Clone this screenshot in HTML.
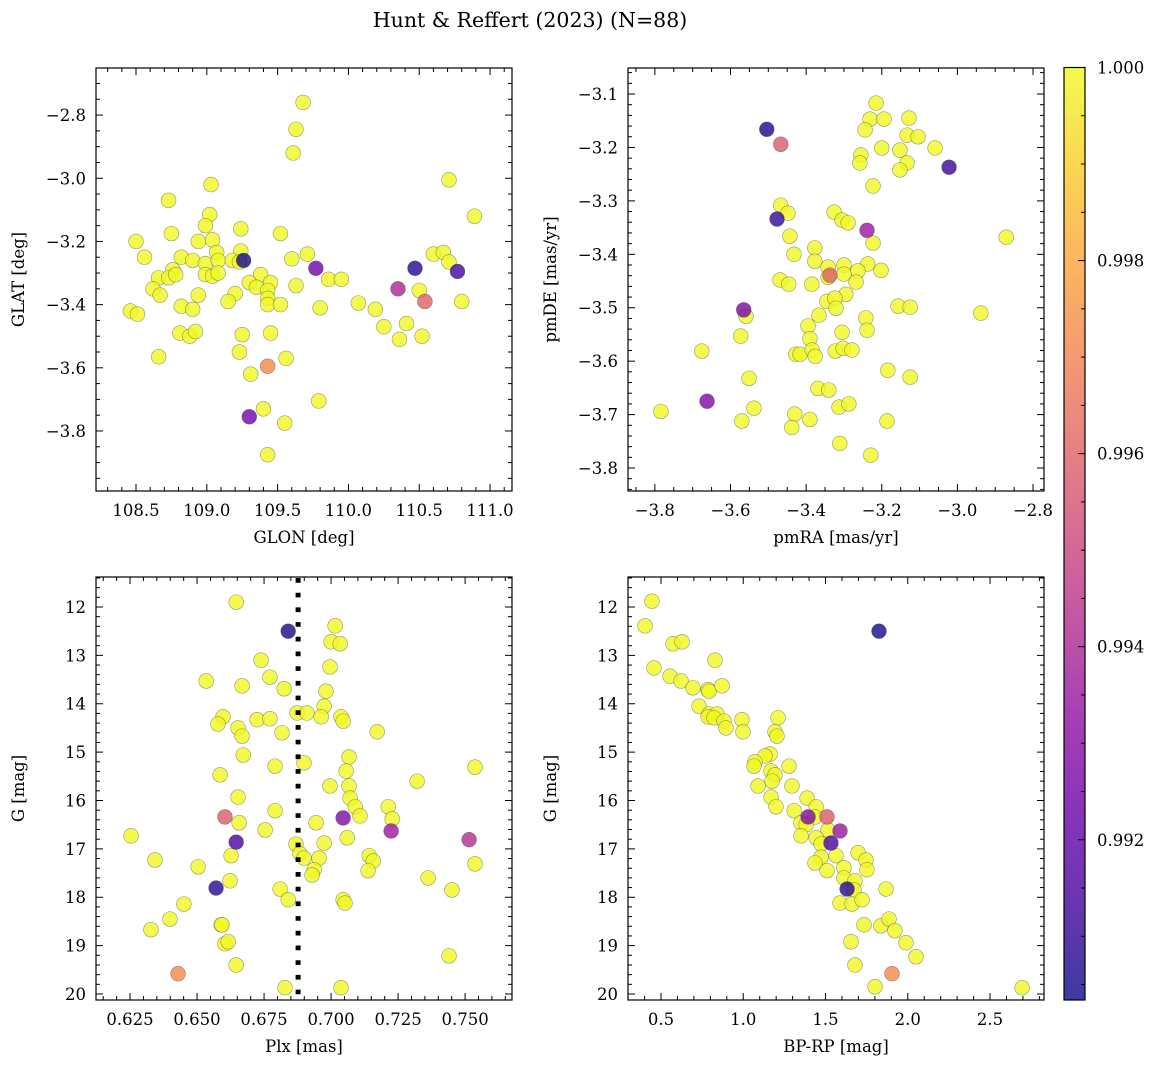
<!DOCTYPE html>
<html><head><meta charset="utf-8"><style>
body{margin:0;background:#fff;}
svg{display:block;font-family:"DejaVu Serif","Liberation Serif",serif;}
</style></head><body>
<svg id="fig" width="1161" height="1067" viewBox="0 0 1161 1067" xmlns="http://www.w3.org/2000/svg">
<text x="530" y="27" font-size="20.5" text-anchor="middle">Hunt &amp; Reffert (2023) (N=88)</text>
</svg>
<script>
// ---- data: panel 1 (GLON vs GLAT)
const glon1=[109.68,109.63,109.61,110.71,110.89,109.03,108.73,109.02,108.99,109.24,108.75,109.52,108.5,108.94,109.04,109.24,109.07,108.56,108.82,108.9,108.99,109.08,109.18,109.23,109.26,109.6,109.71,110.6,110.67,110.71,109.77,110.47,110.77,108.76,108.66,108.73,108.78,108.99,109.04,109.08,109.38,109.3,109.35,109.45,109.43,109.43,109.63,109.86,109.95,108.62,108.67,108.94,109.2,109.15,110.35,110.5,110.54,110.8,108.46,108.51,108.82,108.9,109.43,109.52,109.8,110.07,110.19,110.25,110.41,110.36,110.52,108.81,108.88,108.92,109.25,109.45,109.23,108.66,109.56,109.43,109.31,109.79,109.4,109.3,109.55,109.43];
const glat1=[-2.76,-2.845,-2.92,-3.005,-3.12,-3.02,-3.07,-3.115,-3.15,-3.16,-3.175,-3.175,-3.2,-3.2,-3.195,-3.23,-3.235,-3.25,-3.25,-3.26,-3.27,-3.26,-3.26,-3.265,-3.26,-3.255,-3.24,-3.24,-3.235,-3.265,-3.285,-3.285,-3.295,-3.29,-3.315,-3.315,-3.305,-3.305,-3.31,-3.3,-3.305,-3.33,-3.345,-3.33,-3.355,-3.38,-3.34,-3.32,-3.32,-3.35,-3.37,-3.37,-3.365,-3.39,-3.35,-3.355,-3.39,-3.39,-3.42,-3.43,-3.405,-3.415,-3.4,-3.4,-3.41,-3.395,-3.415,-3.47,-3.46,-3.51,-3.5,-3.49,-3.5,-3.485,-3.495,-3.49,-3.55,-3.565,-3.57,-3.595,-3.62,-3.705,-3.73,-3.755,-3.775,-3.875];
const prob1=[1,1,1,1,1,1,1,1,1,1,1,1,1,1,1,1,1,1,1,1,1,1,1,1,0.9905,1,1,1,1,1,0.9925,0.9908,0.9913,1,1,1,1,1,1,1,1,1,1,1,1,1,1,1,1,1,1,1,1,1,0.994,1,0.996,1,1,1,1,1,1,1,1,1,1,1,1,1,1,1,1,1,1,1,1,1,1,0.9972,1,1,1,0.9925,1,1];
// ---- data: panel 2 (pmRA vs pmDE)
const pmra2=[-3.215,-3.231,-3.194,-3.128,-3.244,-3.133,-3.104,-3.2,-3.152,-3.059,-3.255,-3.258,-3.133,-3.152,-3.022,-3.223,-3.504,-3.467,-3.467,-3.448,-3.477,-3.326,-3.305,-3.289,-3.239,-3.223,-3.443,-2.871,-3.432,-3.377,-3.377,-3.342,-3.3,-3.237,-3.202,-3.263,-3.337,-3.342,-3.3,-3.268,-3.469,-3.446,-3.385,-3.295,-3.345,-3.324,-3.321,-3.157,-3.125,-2.938,-3.565,-3.559,-3.366,-3.242,-3.395,-3.239,-3.573,-3.39,-3.305,-3.676,-3.427,-3.416,-3.384,-3.376,-3.323,-3.302,-3.279,-3.184,-3.125,-3.551,-3.369,-3.34,-3.662,-3.784,-3.538,-3.313,-3.287,-3.57,-3.43,-3.39,-3.186,-3.438,-3.311,-3.229];
const pmde2=[-3.117,-3.147,-3.147,-3.145,-3.167,-3.177,-3.18,-3.201,-3.205,-3.201,-3.214,-3.229,-3.229,-3.242,-3.237,-3.272,-3.166,-3.194,-3.308,-3.323,-3.334,-3.321,-3.336,-3.341,-3.355,-3.379,-3.366,-3.368,-3.4,-3.388,-3.413,-3.424,-3.42,-3.418,-3.43,-3.431,-3.439,-3.443,-3.437,-3.452,-3.448,-3.456,-3.456,-3.475,-3.488,-3.482,-3.501,-3.497,-3.499,-3.51,-3.504,-3.516,-3.514,-3.519,-3.534,-3.542,-3.553,-3.558,-3.546,-3.581,-3.587,-3.587,-3.579,-3.591,-3.581,-3.576,-3.579,-3.617,-3.63,-3.632,-3.651,-3.654,-3.675,-3.694,-3.688,-3.686,-3.68,-3.712,-3.699,-3.709,-3.712,-3.724,-3.754,-3.776];
const prob2=[1,1,1,1,1,1,1,1,1,1,1,1,1,1,0.9912,1,0.9905,0.9958,1,1,0.991,1,1,1,0.9935,1,1,1,1,1,1,1,1,1,1,1,0.996,1,1,1,1,1,1,1,1,1,1,1,1,1,0.9927,1,1,1,1,1,1,1,1,1,1,1,1,1,1,1,1,1,1,1,1,1,0.9928,1,1,1,1,1,1,1,1,1,1,1];
// ---- data: panel 3 (Plx vs G)
const plx3=[0.6646,0.684,0.7015,0.7,0.7034,0.6739,0.6996,0.6534,0.6772,0.6668,0.6825,0.6981,0.6974,0.6873,0.691,0.6963,0.7037,0.7045,0.6597,0.6578,0.6724,0.6772,0.6653,0.6668,0.6817,0.7172,0.6672,0.6899,0.7067,0.6791,0.7537,0.7056,0.6586,0.7321,0.6996,0.7067,0.6653,0.7071,0.709,0.6791,0.7213,0.7108,0.6604,0.7045,0.7228,0.6657,0.6944,0.7224,0.6754,0.6254,0.706,0.7515,0.6646,0.6869,0.6974,0.6627,0.6884,0.6899,0.6955,0.7142,0.7157,0.7537,0.6343,0.6504,0.6937,0.6929,0.7138,0.7362,0.6571,0.6623,0.681,0.684,0.7045,0.7052,0.7451,0.6451,0.6399,0.6328,0.659,0.6593,0.6604,0.6616,0.6646,0.744,0.6429,0.6828,0.7037];
const g3=[11.9,12.5,12.39,12.72,12.76,13.1,13.24,13.53,13.45,13.63,13.69,13.74,14.05,14.19,14.19,14.27,14.27,14.36,14.27,14.42,14.33,14.31,14.5,14.67,14.6,14.58,15.06,15.22,15.1,15.29,15.31,15.39,15.47,15.6,15.7,15.7,15.93,15.95,16.13,16.21,16.13,16.32,16.34,16.36,16.38,16.46,16.46,16.63,16.61,16.73,16.77,16.81,16.86,16.9,16.88,17.14,17.1,17.19,17.19,17.14,17.25,17.31,17.23,17.37,17.43,17.54,17.45,17.6,17.81,17.66,17.83,18.05,18.05,18.12,17.85,18.14,18.45,18.67,18.57,18.57,18.96,18.92,19.4,19.21,19.58,19.87,19.87];
const prob3=[1,0.9905,1,1,1,1,1,1,1,1,1,1,1,1,1,1,1,1,1,1,1,1,1,1,1,1,1,1,1,1,1,1,1,1,1,1,1,1,1,1,1,1,0.9958,0.9928,1,1,1,0.9935,1,1,1,0.9942,0.9915,1,1,1,1,1,1,1,1,1,1,1,1,1,1,1,0.9908,1,1,1,1,1,1,1,1,1,1,1,1,1,1,1,0.9972,1,1];
const plxRef=[0.6877];
// ---- data: panel 4 (BP-RP vs G)
const bprp4=[0.445,0.403,1.825,0.573,0.628,0.828,0.457,0.555,0.622,0.694,0.786,0.792,0.871,0.731,0.792,0.84,0.786,0.822,0.883,0.895,0.992,0.998,1.211,1.193,1.205,1.163,1.132,1.071,1.065,1.278,1.169,1.193,1.175,1.09,1.296,1.169,1.199,1.388,1.443,1.309,1.509,1.394,1.436,1.588,1.351,1.382,1.515,1.351,1.533,1.443,1.473,1.473,1.436,1.564,1.509,1.698,1.746,1.752,1.612,1.612,1.679,1.631,1.673,1.868,1.588,1.661,1.722,1.734,1.837,1.886,1.922,1.655,1.989,2.05,1.679,1.904,1.801,2.695];
const g4=[11.88,12.39,12.5,12.76,12.72,13.1,13.26,13.43,13.53,13.67,13.71,13.74,13.63,14.05,14.21,14.21,14.27,14.29,14.36,14.5,14.33,14.58,14.29,14.58,14.67,15.04,15.08,15.2,15.29,15.29,15.39,15.47,15.6,15.7,15.7,15.93,16.13,15.95,16.13,16.21,16.34,16.34,16.34,16.63,16.46,16.5,16.61,16.73,16.88,16.77,16.9,17.17,17.29,17.14,17.45,17.08,17.23,17.43,17.39,17.6,17.66,17.83,17.85,17.83,18.12,18.14,18.05,18.57,18.59,18.45,18.69,18.92,18.94,19.23,19.4,19.58,19.85,19.87];
const prob4=[1,1,0.9905,1,1,1,1,1,1,1,1,1,1,1,1,1,1,1,1,1,1,1,1,1,1,1,1,1,1,1,1,1,1,1,1,1,1,1,1,1,0.9958,0.9928,1,0.9935,1,1,1,1,0.9915,1,1,1,1,1,1,1,1,1,1,1,1,0.9908,1,1,1,1,1,1,1,1,1,1,1,1,1,0.9972,1,1];
// ---- colorbar
const cbTicks=[0.992,0.994,0.996,0.998,1.000];
const cbMin=0.99034, cbMax=1.0;

const NS='http://www.w3.org/2000/svg';
const svg=document.getElementById('fig');
function mk(tag,attrs,parent){const e=document.createElementNS(NS,tag);for(const k in attrs)e.setAttribute(k,attrs[k]);(parent||svg).appendChild(e);return e;}
const plasmaStops=[[13,8,135],[65,4,157],[106,0,168],[143,13,164],[177,42,144],[204,71,120],[225,100,98],[242,132,75],[252,166,54],[252,206,37],[240,249,33]];
function plasma(t){t=Math.max(0,Math.min(1,t));const f=t*10,i=Math.min(9,Math.floor(f)),r=f-i;const a=plasmaStops[i],b=plasmaStops[i+1];return 'rgb('+a.map((v,k)=>Math.round(v+(b[k]-v)*r)).join(',')+')';}
function fmt(v,d){return (v<0?'\u2212':'')+Math.abs(v).toFixed(d);}

function panel(name,px0,px1,py0,py1,xmin,xmax,ymin,ymax,xt,xminor,xd,yt,yminor,yd,xlabel,ylabel){
  const g=mk('g',{});
  
  
  const sx=v=>px0+(v-xmin)/(xmax-xmin)*(px1-px0);
  const sy=v=>py0+(v-ymin)/(ymax-ymin)*(py1-py0);
  const frame=mk('rect',{x:px0,y:py0,width:px1-px0,height:py1-py0,fill:'#fff',stroke:'#000','stroke-width':1.2},g);
  
  
  const lo=Math.min(xmin,xmax),hi=Math.max(xmin,xmax);
  for(let v=Math.ceil(lo/xminor-1e-6)*xminor;v<=hi+1e-9;v+=xminor){
    const x=sx(v);const major=xt.some(t=>Math.abs(t-v)<xminor/3);const L=major?7:4;
    mk('line',{x1:x,x2:x,y1:py1,y2:py1-L,stroke:'#000','stroke-width':1},g);
    mk('line',{x1:x,x2:x,y1:py0,y2:py0+L,stroke:'#000','stroke-width':1},g);
  }
  xt.forEach(v=>{const t=mk('text',{x:sx(v),y:py1+25,'font-size':16.5,'text-anchor':'middle'},g);t.textContent=fmt(v,xd);
    
    });
  const ylo=Math.min(ymin,ymax),yhi=Math.max(ymin,ymax);
  for(let v=Math.ceil(ylo/yminor-1e-6)*yminor;v<=yhi+1e-9;v+=yminor){
    const y=sy(v);const major=yt.some(t=>Math.abs(t-v)<yminor/3);const L=major?7:4;
    mk('line',{x1:px0,x2:px0+L,y1:y,y2:y,stroke:'#000','stroke-width':1},g);
    mk('line',{x1:px1,x2:px1-L,y1:y,y2:y,stroke:'#000','stroke-width':1},g);
  }
  yt.forEach(v=>{const t=mk('text',{x:px0-10,y:sy(v)+6,'font-size':16.5,'text-anchor':'end'},g);t.textContent=fmt(v,yd);
    
    });
  const xl=mk('text',{x:(px0+px1)/2,y:py1+52,'font-size':16.5,'text-anchor':'middle'},g);xl.textContent=xlabel;
  
  
  const yx=px0-72,yy=(py0+py1)/2;
  const yl=mk('text',{x:yx,y:yy,'font-size':16.5,'text-anchor':'middle',transform:'rotate(-90 '+yx+' '+yy+')'},g);yl.textContent=ylabel;
  
  
  return {g,sx,sy};
}
function scatter(p,xs,ys,ps,name){
  const idx=xs.map((_,i)=>i).sort((a,b)=>ps[b]-ps[a]);
  idx.forEach(i=>{
    const c=mk('circle',{cx:p.sx(xs[i]),cy:p.sy(ys[i]),r:7.4,fill:plasma((ps[i]-cbMin)/(cbMax-cbMin)),'fill-opacity':0.8,stroke:'rgba(70,70,70,0.55)','stroke-width':0.6},p.g);
    
    
  });
}
const p1=panel('panel-glon-glat',96,512,68,491,108.2175,111.155,-2.651,-3.990,[108.5,109,109.5,110,110.5,111],0.1,1,[-2.8,-3.0,-3.2,-3.4,-3.6,-3.8],0.05,1,'GLON [deg]','GLAT [deg]');
scatter(p1,glon1,glat1,prob1,'star-point');
const p2=panel('panel-pm',628,1044,68,491,-3.871,-2.771,-3.0513,-3.843,[-3.8,-3.6,-3.4,-3.2,-3.0,-2.8],0.05,1,[-3.1,-3.2,-3.3,-3.4,-3.5,-3.6,-3.7,-3.8],0.02,1,'pmRA [mas/yr]','pmDE [mas/yr]');
scatter(p2,pmra2,pmde2,prob2,'star-point');
const p3=panel('panel-plx-g',96,512,577,1000,0.6123,0.7675,11.38,20.124,[0.625,0.65,0.675,0.7,0.725,0.75],0.005,3,[12,13,14,15,16,17,18,19,20],0.2,0,'Plx [mas]','G [mag]');
scatter(p3,plx3,g3,prob3,'star-point');
plxRef.forEach(v=>{
  const l=mk('line',{x1:p3.sx(v),x2:p3.sx(v),y1:578,y2:1000,stroke:'#000','stroke-width':5,'stroke-dasharray':'4.7 10'},p3.g);
  
  
});
const p4=panel('panel-cmd',628,1044,577,1000,0.2994,2.828,11.38,20.124,[0.5,1.0,1.5,2.0,2.5],0.1,1,[12,13,14,15,16,17,18,19,20],0.2,0,'BP-RP [mag]','G [mag]');
scatter(p4,bprp4,g4,prob4,'star-point');

// colorbar
const cb=mk('g',{});


const defs=mk('defs',{},cb);
const lg=mk('linearGradient',{id:'cbg',x1:0,y1:1,x2:0,y2:0},defs);
for(let i=0;i<=20;i++){mk('stop',{offset:i/20,'stop-color':plasma(i/20),'stop-opacity':0.8},lg);}
const cbx0=1064,cbx1=1085,cby0=67.5,cby1=1000;
const cbr=mk('rect',{x:cbx0,y:cby0,width:cbx1-cbx0,height:cby1-cby0,fill:'url(#cbg)',stroke:'#000','stroke-width':1.2},cb);


const cy=v=>cby1-(v-cbMin)/(cbMax-cbMin)*(cby1-cby0);
for(let v=0.9905;v<=1.00001;v+=0.0005){const major=cbTicks.some(t=>Math.abs(t-v)<0.0001);mk('line',{x1:cbx1,x2:cbx1-(major?7:4),y1:cy(v),y2:cy(v),stroke:'#000','stroke-width':1},cb);}
cbTicks.forEach(v=>{const t=mk('text',{x:1097,y:cy(v)+6,'font-size':16.5},cb);t.textContent=v.toFixed(3);
  
  });
</script>
</body></html>
